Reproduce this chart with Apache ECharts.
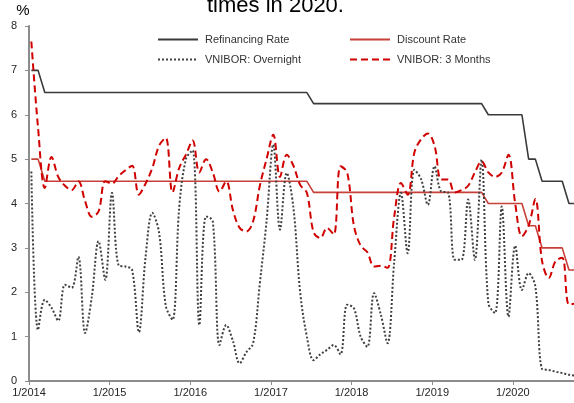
<!DOCTYPE html>
<html>
<head>
<meta charset="utf-8">
<script src="https://cdn.jsdelivr.net/npm/echarts@6/dist/echarts.min.js"></script>
<style>
  html, body { margin: 0; padding: 0; background: #fff; }
  #chart { width: 574px; height: 403px; }
</style>
</head>
<body>
<div id="chart"></div>
<script>
// monthly observations, Jan 2014 .. Oct 2020
const firstYear = 2014;
const yearLabels = ['1/2014', '1/2015', '1/2016', '1/2017', '1/2018', '1/2019', '1/2020'];

const refinancingRate = [
  7, 7, 6.5, 6.5, 6.5, 6.5, 6.5, 6.5, 6.5, 6.5, 6.5, 6.5,
  6.5, 6.5, 6.5, 6.5, 6.5, 6.5, 6.5, 6.5, 6.5, 6.5, 6.5, 6.5,
  6.5, 6.5, 6.5, 6.5, 6.5, 6.5, 6.5, 6.5, 6.5, 6.5, 6.5, 6.5,
  6.5, 6.5, 6.5, 6.5, 6.5, 6.5, 6.25, 6.25, 6.25, 6.25, 6.25, 6.25,
  6.25, 6.25, 6.25, 6.25, 6.25, 6.25, 6.25, 6.25, 6.25, 6.25, 6.25, 6.25,
  6.25, 6.25, 6.25, 6.25, 6.25, 6.25, 6.25, 6.25, 6, 6, 6, 6,
  6, 6, 5, 5, 4.5, 4.5, 4.5, 4.5, 4, 4
];

const discountRate = [
  5, 5, 4.5, 4.5, 4.5, 4.5, 4.5, 4.5, 4.5, 4.5, 4.5, 4.5,
  4.5, 4.5, 4.5, 4.5, 4.5, 4.5, 4.5, 4.5, 4.5, 4.5, 4.5, 4.5,
  4.5, 4.5, 4.5, 4.5, 4.5, 4.5, 4.5, 4.5, 4.5, 4.5, 4.5, 4.5,
  4.5, 4.5, 4.5, 4.5, 4.5, 4.5, 4.25, 4.25, 4.25, 4.25, 4.25, 4.25,
  4.25, 4.25, 4.25, 4.25, 4.25, 4.25, 4.25, 4.25, 4.25, 4.25, 4.25, 4.25,
  4.25, 4.25, 4.25, 4.25, 4.25, 4.25, 4.25, 4.25, 4, 4, 4, 4,
  4, 4, 3.5, 3.5, 3, 3, 3, 3, 2.5, 2.5
];

const vniborOvernight = [
  4.72, 1.15, 1.83, 1.65, 1.36, 2.17, 2.1, 2.8, 1.08, 1.9, 3.15, 2.28,
  4.24, 2.6, 2.58, 2.5, 1.1, 2.8, 3.79, 3.35, 1.7, 1.38, 3.9, 5.0,
  5.2, 1.26, 3.71, 3.6, 0.81, 1.26, 0.9, 0.4, 0.65, 0.85, 2.2, 3.6,
  5.33, 3.41, 4.69, 3.9, 2.0, 1.0, 0.47, 0.6, 0.7, 0.81, 0.6, 1.72,
  1.64, 1.0, 0.77, 1.98, 1.5, 0.85, 2.7, 4.24, 2.88, 4.76, 4.55, 3.97,
  4.84, 4.27, 4.25, 2.73, 2.73, 4.09, 2.73, 4.99, 1.75, 1.53, 3.93, 1.45,
  3.05, 2.05, 2.43, 2.13, 0.27, 0.25, 0.21, 0.18, 0.14, 0.12
];

const vnibor3M = [
  7.65, 5.7, 4.35, 5.05, 4.6, 4.4, 4.3, 4.5, 4.05, 3.7, 3.82, 4.5,
  4.45, 4.62, 4.75, 4.85, 4.2, 4.45, 4.8, 5.3, 5.48, 4.25, 4.8, 5.1,
  5.42, 4.7, 5.0, 4.7, 4.27, 4.5, 3.85, 3.45, 3.37, 3.6, 4.4, 5.0,
  5.55, 4.6, 5.1, 4.85, 4.42, 4.24, 3.35, 3.22, 3.45, 3.3, 4.84, 4.7,
  3.5, 3.05, 2.9, 2.58, 2.6, 2.55, 3.71, 4.46, 4.2, 5.15, 5.45, 5.58,
  5.3, 4.54, 4.54, 4.25, 4.3, 4.4, 4.7, 4.95, 4.7, 4.6, 4.7, 5.1,
  4.0, 3.26, 3.5, 4.1, 2.7, 2.32, 2.7, 2.78, 1.72, 1.75
];

// months since 1/2014; values are observed a little into each month
const obsOffset = 0.35;
function toPoints(arr) {
  return arr.map((v, i) => [i + obsOffset, v]);
}

const FONT = 'Liberation Sans, Arial, sans-serif';
const chart = echarts.init(document.getElementById('chart'));

function legendAt(name, left, top) {
  return {
    data: [name], left: left, top: top, padding: 0,
    itemWidth: 40, itemHeight: 12, selectedMode: false,
    itemStyle: { opacity: 0 },
    textStyle: { fontFamily: FONT, fontSize: 11, color: '#333', padding: [0, 0, 0, 2] }
  };
}

chart.setOption({
  animation: false,
  title: {
    text: 'times in 2020.', left: 207, top: -5, padding: 0,
    textStyle: { fontFamily: FONT, fontSize: 22, fontWeight: 'normal', color: '#000' }
  },
  legend: [
    legendAt('Refinancing Rate', 157, 34),
    legendAt('Discount Rate', 349, 34),
    legendAt('VNIBOR: Overnight', 157, 54),
    legendAt('VNIBOR: 3 Months', 349, 54)
  ],
  grid: { left: 29, right: 0, top: 26, bottom: 22, containLabel: false },
  xAxis: {
    type: 'value', min: 0, max: 81.1, interval: 12,
    splitLine: { show: false },
    axisLine: { lineStyle: { color: '#8c8c8c', width: 2 } },
    axisTick: { show: true, length: 4, lineStyle: { color: '#8c8c8c', width: 1 } },
    axisLabel: {
      margin: 6, showMaxLabel: false,
      fontFamily: FONT, fontSize: 11, color: '#262626',
      formatter: function (v) {
        if (v % 12 !== 0) return '';
        return yearLabels[v / 12] || ('1/' + (firstYear + v / 12));
      }
    }
  },
  yAxis: {
    type: 'value', min: 0, max: 8, interval: 1,
    name: '%', nameLocation: 'end', nameGap: 8,
    nameTextStyle: { fontFamily: FONT, fontSize: 15, color: '#000', padding: [0, 12, 0, 0] },
    splitLine: { show: false },
    axisLine: { show: true, lineStyle: { color: '#8c8c8c', width: 2 } },
    axisTick: { show: true, length: 4, lineStyle: { color: '#8c8c8c', width: 1 } },
    axisLabel: { margin: 12, fontFamily: FONT, fontSize: 11, color: '#262626' }
  },
  series: [
    {
      name: 'Refinancing Rate', type: 'line', showSymbol: false, symbol: 'none',
      data: toPoints(refinancingRate),
      lineStyle: { color: '#3a3a3a', width: 1.6 }, itemStyle: { color: '#3a3a3a' }
    },
    {
      name: 'Discount Rate', type: 'line', showSymbol: false, symbol: 'none',
      data: toPoints(discountRate),
      lineStyle: { color: '#c8403a', width: 1.6 }, itemStyle: { color: '#c8403a' }
    },
    {
      name: 'VNIBOR: Overnight', type: 'line', showSymbol: false, symbol: 'none', smooth: 0.35,
      data: toPoints(vniborOvernight),
      lineStyle: { color: '#404040', width: 2, type: [2, 2] }, itemStyle: { color: '#404040' }
    },
    {
      name: 'VNIBOR: 3 Months', type: 'line', showSymbol: false, symbol: 'none', smooth: 0.35,
      data: toPoints(vnibor3M),
      lineStyle: { color: '#d00000', width: 2, type: [7, 4] }, itemStyle: { color: '#d00000' }
    }
  ]
});
</script>
</body>
</html>
